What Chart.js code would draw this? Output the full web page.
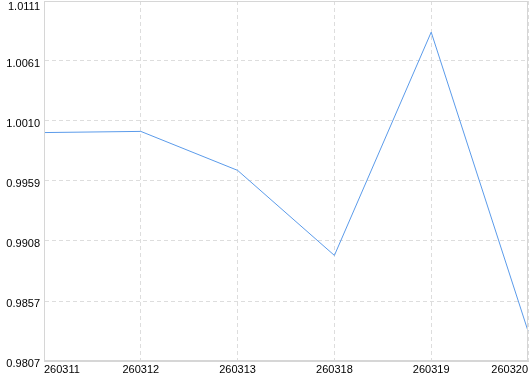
<!DOCTYPE html>
<html>
<head>
<meta charset="utf-8">
<script src="https://cdn.jsdelivr.net/npm/chart.js@4"></script>
<style>
  html, body { margin: 0; padding: 0; background: #fff; }
  #wrap { width: 530px; height: 374px; }
</style>
</head>
<body>
<div id="wrap"><canvas id="navChart"></canvas></div>
<script>
// === Data ===
const categories = ['260311', '260312', '260313', '260318', '260319', '260320'];
const navValues = [1.0000, 1.0001, 0.9968, 0.9896, 1.0085, 0.9832];
const yTickValues = [0.98066, 0.98574, 0.99082, 0.9959, 1.00098, 1.00606, 1.01114];
const yTickLabels = ['0.9807', '0.9857', '0.9908', '0.9959', '1.0010', '1.0061', '1.0111'];

const gridColor = '#dddddd';
const lastY = yTickLabels.length - 1;

// Solid frame around the plot area
const framePlugin = {
    id: 'frame',
    afterDraw(chart) {
        const { ctx, chartArea: a } = chart;
        const l = Math.round(a.left) + 0.5, t = Math.round(a.top) + 0.5;
        const r = Math.round(a.right) - 0.5, b = Math.round(a.bottom) - 0.5;
        ctx.save();
        ctx.strokeStyle = '#d6d6d6';
        ctx.lineWidth = 1;
        ctx.strokeRect(l, t, r - l, b - t);
        ctx.restore();
    }
};

Chart.defaults.font.family = "'Liberation Sans', Arial, sans-serif";
Chart.defaults.font.size = 11;
Chart.defaults.color = '#000';

new Chart(document.getElementById('navChart'), {
    type: 'line',
    data: {
        labels: categories,
        datasets: [{
            data: navValues,
            borderColor: '#5b9bea',
            borderWidth: 1,
            pointRadius: 0,
            tension: 0,
            fill: false
        }]
    },
    options: {
        responsive: true,
        maintainAspectRatio: false,
        animation: false,
        layout: { padding: { top: 1, right: 1, left: 0, bottom: 0 } },
        plugins: { legend: { display: false }, tooltip: { enabled: false } },
        scales: {
            x: {
                offset: false,
                grid: { color: gridColor, drawTicks: false },
                border: { color: '#d6d6d6', dash: [4, 3] },
                ticks: { align: 'inner', padding: 2, maxRotation: 0, autoSkip: false },
                afterFit: s => { s.height = 13; }
            },
            y: {
                min: yTickValues[0],
                max: yTickValues[lastY],
                grid: { color: gridColor, drawTicks: false },
                border: { color: '#d6d6d6', dash: [4, 3] },
                afterBuildTicks: s => { s.ticks = yTickValues.map(v => ({ value: v })); },
                ticks: {
                    padding: 4,
                    labelOffset: 3,
                    // top label sits a little lower so it stays inside the canvas
                    font: c => ({ size: 11, lineHeight: c.index === lastY ? '5px' : 1.2 }),
                    callback: (v, i) => i === lastY ? ['', yTickLabels[i]] : yTickLabels[i]
                },
                afterFit: s => { s.width = 44; s.paddingTop = 0; s.paddingBottom = 0; }
            }
        }
    },
    plugins: [framePlugin]
});
</script>
</body>
</html>
